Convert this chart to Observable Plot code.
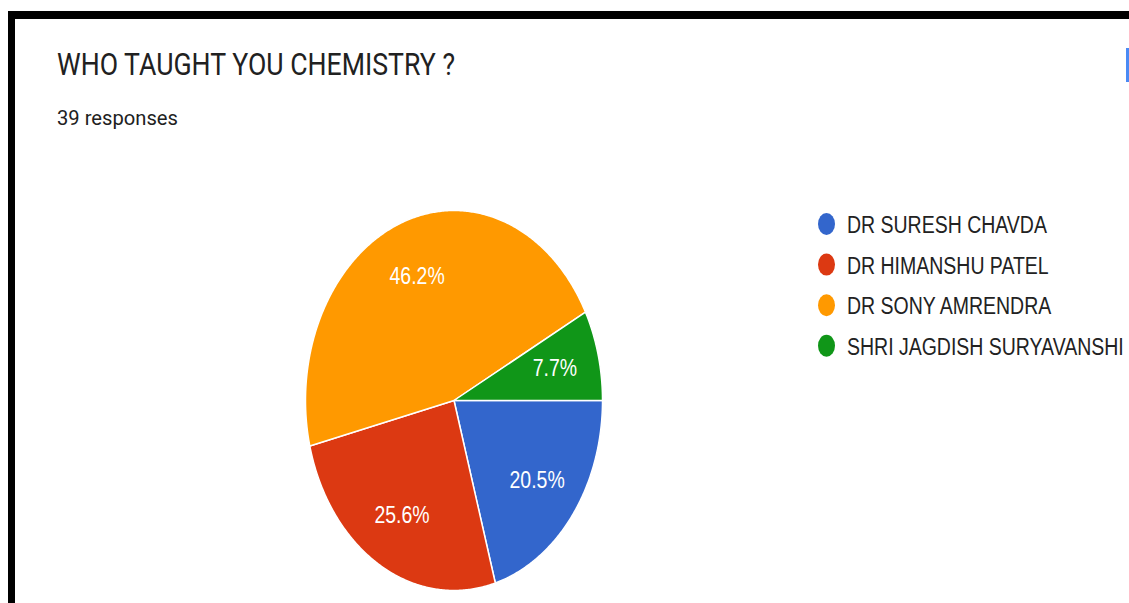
<!DOCTYPE html>
<html>
<head>
<meta charset="utf-8">
<script src="https://cdn.jsdelivr.net/npm/d3@7"></script>
<script src="https://cdn.jsdelivr.net/npm/@observablehq/plot@0.6"></script>
<style>
  html, body { margin: 0; padding: 0; background: #fff; }
  body { position: relative; width: 1129px; height: 603px; overflow: hidden; }
  .abs { position: absolute; }
  #topbar { left: 8px; top: 11px; width: 1121px; height: 8px; background: #000; }
  #leftbar { left: 8px; top: 11px; width: 7px; height: 592px; background: #000; }
  #icon { left: 1126px; top: 48px; width: 3px; height: 34px; background: #4a8af4; }
  #pie { left: 302px; top: 207px; }
  #overlay { left: 0; top: 0; }
</style>
</head>
<body>
<div id="topbar" class="abs"></div>
<div id="leftbar" class="abs"></div>
<div id="icon" class="abs"></div>
<div id="pie" class="abs"></div>
<svg id="overlay" class="abs" width="1129" height="603"></svg>
<script>
// ---- data ----
const title = "WHO TAUGHT YOU CHEMISTRY ?";
const subtitle = "39 responses";
const teachers = ["DR SURESH CHAVDA", "DR HIMANSHU PATEL", "DR SONY AMRENDRA", "SHRI JAGDISH SURYAVANSHI"];
const responses = [8, 10, 18, 3];
const percentLabels = ["20.5%", "25.6%", "46.2%", "7.7%"];
const sliceColors = ["#3366cc", "#dc3912", "#ff9900", "#109618"];

// ---- build slice outlines from the data ----
const total = d3.sum(responses);
const slicePts = [];
const labelPts = [];
let acc = 0;
responses.forEach((c, i) => {
  const a0 = acc / total * 2 * Math.PI;
  acc += c;
  const a1 = acc / total * 2 * Math.PI;
  slicePts.push({name: teachers[i], x: 0, y: 0});
  const n = Math.max(2, Math.ceil((a1 - a0) / (Math.PI / 360)));
  for (let k = 0; k <= n; k++) {
    const a = a0 + (a1 - a0) * k / n;
    slicePts.push({name: teachers[i], x: Math.cos(a), y: -Math.sin(a)});
  }
  slicePts.push({name: teachers[i], x: 0, y: 0});
  const am = (a0 + a1) / 2;
  labelPts.push({name: teachers[i], label: percentLabels[i], x: 0.7 * Math.cos(am), y: -0.7 * Math.sin(am)});
});

const pie = Plot.plot({
  width: 303,
  height: 386,
  margin: 3,
  x: {domain: [-1, 1], axis: null},
  y: {domain: [-1, 1], axis: null},
  color: {domain: teachers, range: sliceColors},
  style: {background: "transparent", overflow: "visible"},
  marks: [
    Plot.line(slicePts, {x: "x", y: "y", z: "name", fill: "name", stroke: "white", strokeWidth: 1.5, curve: "linear"}),
    Plot.text(labelPts, {x: "x", y: "y", text: "label", fill: "white", fontSize: 19.5,
      fontFamily: "'Liberation Sans', Arial, sans-serif"})
  ]
});
document.getElementById("pie").appendChild(pie);

// stretch pie labels vertically like the reference
const labelScale = 1.2;
pie.querySelectorAll('g[aria-label="text"] text').forEach(t => {
  const b = t.getBBox();
  const cx = b.x + b.width / 2, cy = b.y + b.height / 2;
  const prev = t.getAttribute("transform") || "";
  t.setAttribute("transform", `${prev} translate(${cx},${cy}) scale(1,${labelScale}) translate(${-cx},${-cy})`);
});

// ---- text + legend overlay ----
const ns = "http://www.w3.org/2000/svg";
const overlay = document.getElementById("overlay");
function addText(str, x, baseline, size, sy, family, fill, length) {
  const t = document.createElementNS(ns, "text");
  t.setAttribute("transform", `translate(${x},${baseline}) scale(1,${sy})`);
  t.setAttribute("font-size", size);
  t.setAttribute("font-family", family);
  t.setAttribute("fill", fill);
  if (length) {
    t.setAttribute("textLength", length);
    t.setAttribute("lengthAdjust", "spacingAndGlyphs");
  }
  t.textContent = str;
  overlay.appendChild(t);
}
addText(title, 57, 75, 26.4, 1.21, "Roboto, sans-serif", "#212121", 398);
addText(subtitle, 57, 125, 20, 1.0, "Roboto, sans-serif", "#212121", 121);

const rowStep = 40.6;
teachers.forEach((name, i) => {
  const cy = 224 + i * rowStep;
  const e = document.createElementNS(ns, "ellipse");
  e.setAttribute("cx", 826.5);
  e.setAttribute("cy", cy);
  e.setAttribute("rx", 8.5);
  e.setAttribute("ry", 11);
  e.setAttribute("fill", sliceColors[i]);
  overlay.appendChild(e);
  addText(name, 847, cy + 9, 19.5, 1.27, "'Liberation Sans', Arial, sans-serif", "#222222");
});
</script>
</body>
</html>
